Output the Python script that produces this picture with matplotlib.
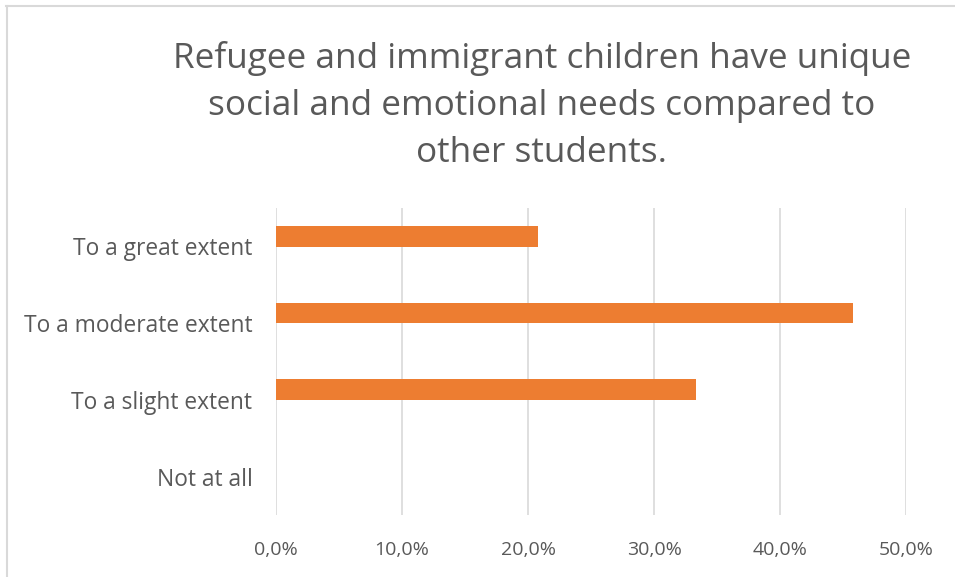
import matplotlib.pyplot as plt
from matplotlib.lines import Line2D
from matplotlib.ticker import FuncFormatter

categories = ["To a great extent", "To a moderate extent", "To a slight extent", "Not at all"]
values = [20.83, 45.83, 33.33, 0.0]
ticks = [0, 10, 20, 30, 40, 50]

title = "Refugee and immigrant children have unique\nsocial and emotional needs compared to\nother students."

plt.rcParams['font.family'] = ['Open Sans', 'DejaVu Sans']

fig = plt.figure(figsize=(9.55, 5.77), dpi=100)
ax = fig.add_axes([0.289, 0.1075, 0.6597, 0.5321])

pos = list(range(len(categories)))[::-1]
# Excel places the single series slightly above the category centre
ax.barh([p + 0.13 for p in pos], values, height=0.27, color="#ED7D31", zorder=3)

ax.set_xlim(0, 50)
ax.set_ylim(-0.5, len(categories) - 0.5)
ax.set_xticks(ticks)
ax.xaxis.set_major_formatter(FuncFormatter(lambda v, p: f"{v:.1f}%".replace(".", ",")))
ax.set_yticks(pos)
ax.set_yticklabels(categories)
ax.grid(axis="x", color="#D9D9D9", linewidth=1.2, zorder=0)
for s in ax.spines.values():
    s.set_visible(False)
ax.tick_params(axis="both", length=0, colors="#595959")
ax.tick_params(axis="x", labelsize=14, pad=19)
ax.tick_params(axis="y", labelsize=16.4, pad=17)

fig.text(0.5675, 0.818, title, ha="center", va="center", fontsize=25.3,
         color="#595959", linespacing=1.5)

# chart border (cut off on right and bottom)
fig.add_artist(Line2D([6 / 955, 1.0], [1 - 6 / 577, 1 - 6 / 577],
                      transform=fig.transFigure, color="#D9D9D9", linewidth=1.5))
fig.add_artist(Line2D([6.5 / 955, 6.5 / 955], [0, 1 - 6 / 577],
                      transform=fig.transFigure, color="#D9D9D9", linewidth=1.5))

fig.savefig("out.png", dpi=100)
